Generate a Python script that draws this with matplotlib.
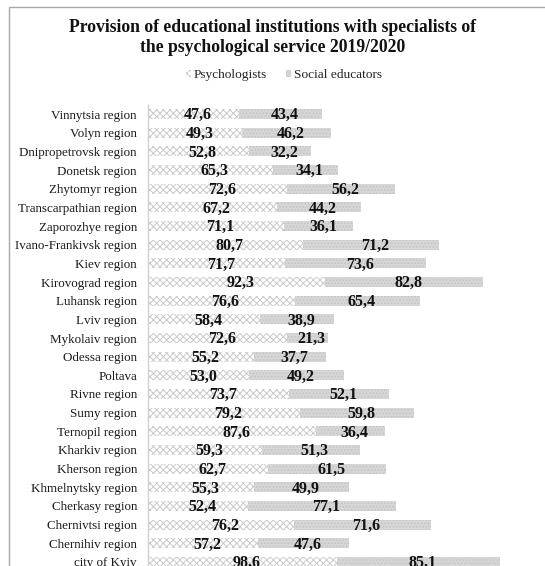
import matplotlib
matplotlib.use("Agg")
import matplotlib.pyplot as plt
from matplotlib.patches import Rectangle, Patch

plt.rcParams['font.family'] = ['Liberation Serif', 'DejaVu Serif']
plt.rcParams['hatch.linewidth'] = 0.7

regions = [
    "Vinnytsia region", "Volyn region", "Dnipropetrovsk region", "Donetsk region",
    "Zhytomyr region", "Transcarpathian region", "Zaporozhye region",
    "Ivano-Frankivsk region", "Kiev region", "Kirovograd region", "Luhansk region",
    "Lviv region", "Mykolaiv region", "Odessa region", "Poltava", "Rivne region",
    "Sumy region", "Ternopil region", "Kharkiv region", "Kherson region",
    "Khmelnytsky region", "Cherkasy region", "Chernivtsi region", "Chernihiv region",
    "city of Kyiv",
]
psychologists = [47.6, 49.3, 52.8, 65.3, 72.6, 67.2, 71.1, 80.7, 71.7, 92.3, 76.6,
                 58.4, 72.6, 55.2, 53.0, 73.7, 79.2, 87.6, 59.3, 62.7, 55.3, 52.4,
                 76.2, 57.2, 98.6]
social_educators = [43.4, 46.2, 32.2, 34.1, 56.2, 44.2, 36.1, 71.2, 73.6, 82.8, 65.4,
                    38.9, 21.3, 37.7, 49.2, 52.1, 59.8, 36.4, 51.3, 61.5, 49.9, 77.1,
                    71.6, 47.6, 85.1]

W, H = 545, 566
fig = plt.figure(figsize=(W / 100, H / 100), dpi=100)

# outer chart-area border (right and bottom edges fall outside the canvas)
fig.patches.append(Rectangle((9 / W, -0.1), 1.2, 1 - 7 / H + 0.1,
                             transform=fig.transFigure, fill=False,
                             edgecolor='#a8a8a8', linewidth=1.0, zorder=0))

ax = fig.add_axes([148 / W, 1 - 571.3 / H, 383 / W, (571.3 - 104.7) / H])
ypos = list(range(len(regions)))
bar_h = 0.55

ax.barh(ypos, psychologists, height=bar_h, color='white',
        edgecolor='#cacaca', hatch='xxxxx', linewidth=0)
ax.barh(ypos, social_educators, left=psychologists, height=bar_h,
        color='#d6d6d6', edgecolor='#c4c4c4', hatch='.....', linewidth=0)

for y, p, s in zip(ypos, psychologists, social_educators):
    ax.annotate(f"{p:.1f}".replace('.', ','), (p / 2, y), xytext=(3, -0.8),
                textcoords='offset points', ha='center', va='center',
                fontsize=11.5, fontweight='bold', color='#111111')
    ax.annotate(f"{s:.1f}".replace('.', ','), (p + s / 2, y), xytext=(3, -0.8),
                textcoords='offset points', ha='center', va='center',
                fontsize=11.5, fontweight='bold', color='#111111')

ax.set_xlim(0, 200)
ax.set_ylim(len(regions) - 0.5, -0.5)
ax.set_yticks(ypos)
ax.set_yticklabels(regions, fontsize=9.4, color='#1a1a1a')
ax.tick_params(axis='y', length=0, pad=8)
ax.set_xticks([])
for side in ('top', 'right', 'bottom'):
    ax.spines[side].set_visible(False)
ax.spines['left'].set_color('#d0d0d0')
ax.spines['left'].set_linewidth(1.0)
ax.patch.set_alpha(0)

fig.text(0.5, 1 - 28 / H, "Provision of educational institutions with specialists of",
         ha='center', va='center', fontsize=12.7, fontweight='bold', color='#111111')
fig.text(0.5, 1 - 47 / H, "the psychological service 2019/2020",
         ha='center', va='center', fontsize=12.7, fontweight='bold', color='#111111')

handles = [Patch(facecolor='white', edgecolor='#cacaca', hatch='xxxxx', linewidth=0),
           Patch(facecolor='#d6d6d6', edgecolor='#c4c4c4', hatch='.....', linewidth=0)]
fig.legend(handles, ["Psychologists", "Social educators"], loc='center',
           bbox_to_anchor=(284 / W, 1 - 75 / H), ncol=2, frameon=False,
           fontsize=9.6, handlelength=0.4, handleheight=0.4, handletextpad=0.2,
           columnspacing=1.4, labelcolor='#222222')

fig.savefig("out.png", dpi=100)
